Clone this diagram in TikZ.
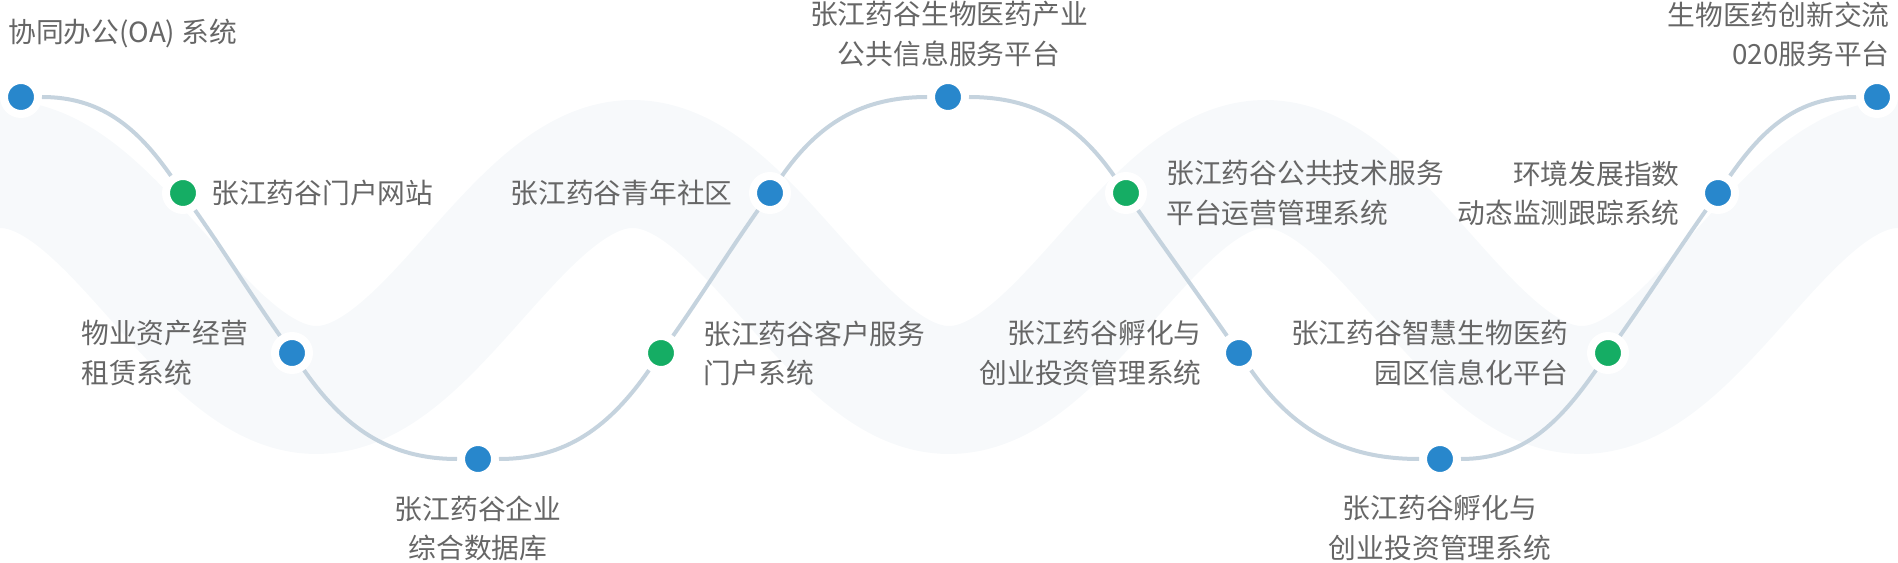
\documentclass[tikz,border=0pt]{standalone}
\usepackage{fontspec}
\setmainfont{Noto Sans CJK SC}
\usepackage{tikz}
\usetikzlibrary{positioning}
\definecolor{bandgray}{RGB}{247,249,251}
\definecolor{wavegray}{RGB}{197,211,222}
\definecolor{dotblue}{RGB}{40,135,204}
\definecolor{dotgreen}{RGB}{21,173,100}
\definecolor{txtgray}{RGB}{102,102,102}
\tikzset{band/.style={line width=2.56cm,bandgray,smooth,samples=160},
  wave/.style={line width=0.08cm,wavegray},
  bluedot/.style={circle,fill=dotblue,draw=white,line width=0.16cm,minimum size=0.68cm,inner sep=0pt,outer sep=0.08cm},
  greendot/.style={bluedot,fill=dotgreen},
  lbl/.style={inner sep=0pt,text=txtgray,font=\fontsize{15.8pt}{22.3pt}\selectfont}}

\begin{document}
\begin{tikzpicture}[x=0.02cm,y=0.02cm] %单位取像素
        \useasboundingbox (0,0) rectangle (1898,562);
        \begin{scope}
        \clip (0,0) rectangle (1898,562);
        \draw[band,domain=-10:1910] plot(\x,{285+113*cos(\x*0.569)}); % 背景波带
        \end{scope}
        \node[bluedot] (d1) at (21,465) {};
        \node[greendot] (d2) at (183,369) {};
        \node[bluedot] (d3) at (292,209) {};
        \node[bluedot] (d4) at (478,103) {};
        \node[greendot] (d5) at (661,209) {};
        \node[bluedot] (d6) at (770,369) {};
        \node[bluedot] (d7) at (948,465) {};
        \node[greendot] (d8) at (1126,369) {};
        \node[bluedot] (d9) at (1239,209) {};
        \node[bluedot] (d10) at (1440,103) {};
        \node[greendot] (d11) at (1608,209) {};
        \node[bluedot] (d12) at (1718,369) {};
        \node[bluedot] (d13) at (1877,465) {};
        % 主曲线
        \draw[wave] (d1) to[out=0,in=125] (d2) to[out=-55,in=125] (d3) to[out=-55,in=180] (d4);
        \draw[wave] (d4) to[out=0,in=235] (d5) to[out=55,in=235] (d6) to[out=55,in=180] (d7);
        \draw[wave] (d7) to[out=0,in=125] (d8) to[out=-55,in=125] (d9) to[out=-55,in=180] (d10);
        \draw[wave] (d10) to[out=0,in=235] (d11) to[out=55,in=235] (d12) to[out=55,in=180] (d13);
        % 文字
        \node[lbl,anchor=west] (t1) at (8,528) {协同办公(OA) 系统};
        \node[lbl,anchor=west] (t2) at (211,369) {张江药谷门户网站};
        \node[lbl,anchor=west,align=left] (t3) at (81,209) {物业资产经营\\租赁系统};
        \node[lbl,align=center] (t4) at (478,34) {张江药谷企业\\综合数据库};
        \node[lbl,anchor=west,align=left] (t5) at (703,209) {张江药谷客户服务\\门户系统};
        \node[lbl,anchor=east] (t6) at (733,369) {张江药谷青年社区};
        \node[lbl,align=center] (t7) at (949,528) {张江药谷生物医药产业\\公共信息服务平台};
        \node[lbl,anchor=west,align=left] (t8) at (1166,369) {张江药谷公共技术服务\\平台运营管理系统};
        \node[lbl,anchor=east,align=right] (t9) at (1202,209) {张江药谷孵化与\\创业投资管理系统};
        \node[lbl,align=center] (t10) at (1440,34) {张江药谷孵化与\\创业投资管理系统};
        \node[lbl,anchor=east,align=right] (t11) at (1569,209) {张江药谷智慧生物医药\\园区信息化平台};
        \node[lbl,anchor=east,align=right] (t12) at (1680,369) {环境发展指数\\动态监测跟踪系统};
        \node[lbl,anchor=east,align=right] (t13) at (1890,528) {生物医药创新交流\\020服务平台};
        \end{tikzpicture}
\end{document}
